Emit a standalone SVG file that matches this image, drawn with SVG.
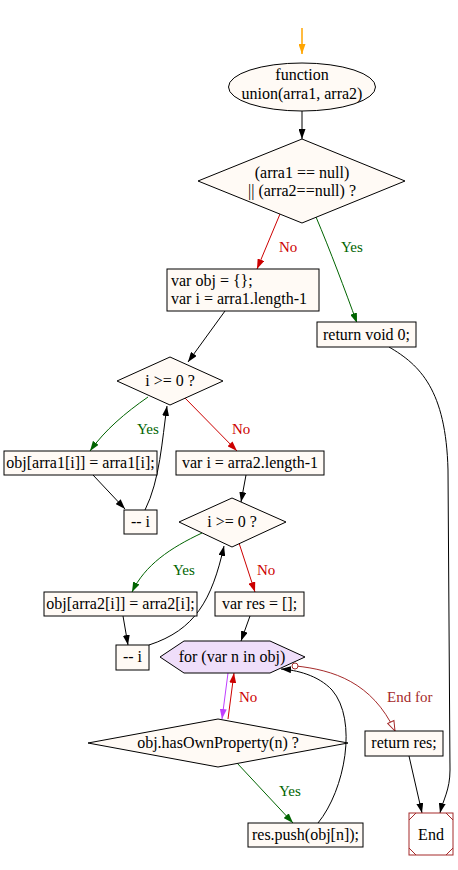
<svg xmlns="http://www.w3.org/2000/svg" width="458" height="870" viewBox="0 0 458 870">
<style>
.n{fill:#fffaf5;stroke:#000;stroke-width:1}
.t{font-family:"Liberation Serif","Times New Roman",serif;font-size:16px;fill:#000;text-anchor:middle}
.l{text-anchor:start}
.e{fill:none;stroke:#000;stroke-width:1}
.red{stroke:#cc0000}
.grn{stroke:#006400}
.lr{font-family:"Liberation Serif","Times New Roman",serif;font-size:15px;fill:#cc0000}
.lg{font-family:"Liberation Serif","Times New Roman",serif;font-size:15px;fill:#006400}
.lb{font-family:"Liberation Serif","Times New Roman",serif;font-size:15px;fill:#a52a2a}
</style>
<defs>
<marker id="ab" viewBox="0 0 10 7" refX="10" refY="3.5" markerWidth="10" markerHeight="7" orient="auto" markerUnits="userSpaceOnUse"><path d="M0,0L10,3.5L0,7z" fill="#000"/></marker>
<marker id="ar" viewBox="0 0 10 7" refX="10" refY="3.5" markerWidth="10" markerHeight="7" orient="auto" markerUnits="userSpaceOnUse"><path d="M0,0L10,3.5L0,7z" fill="#cc0000"/></marker>
<marker id="ag" viewBox="0 0 10 7" refX="10" refY="3.5" markerWidth="10" markerHeight="7" orient="auto" markerUnits="userSpaceOnUse"><path d="M0,0L10,3.5L0,7z" fill="#006400"/></marker>
<marker id="ao" viewBox="0 0 10 7" refX="10" refY="3.5" markerWidth="10" markerHeight="7" orient="auto" markerUnits="userSpaceOnUse"><path d="M0,0L10,3.5L0,7z" fill="#ffa500"/></marker>
<marker id="ap" viewBox="0 0 10 7" refX="10" refY="3.5" markerWidth="10" markerHeight="7" orient="auto" markerUnits="userSpaceOnUse"><path d="M0,0L10,3.5L0,7z" fill="#bf3eff"/></marker>
<marker id="aw" viewBox="-1 -1 12 9" refX="10" refY="3.5" markerWidth="12" markerHeight="9" orient="auto" markerUnits="userSpaceOnUse"><path d="M0,0L10,3.5L0,7z" fill="#fff" stroke="#a52a2a" stroke-width="1"/></marker>
<marker id="od" viewBox="-4 -4 8 8" refX="0" refY="0" markerWidth="8" markerHeight="8" orient="auto" markerUnits="userSpaceOnUse"><circle cx="0" cy="0" r="3" fill="#fff" stroke="#a52a2a" stroke-width="1"/></marker>
</defs>
<g id="edges">
<path class="e" d="M302,28L302,54" style="stroke:#ffa500;stroke-width:1.5" marker-end="url(#ao)"/>
<path class="e" d="M302,111L302,139" marker-end="url(#ab)"/>
<path class="e red" d="M280,214L257,269" marker-end="url(#ar)"/>
<text class="lr" x="279" y="252">No</text>
<path class="e grn" d="M316,217C330,250 345,290 357,323" marker-end="url(#ag)"/>
<text class="lg" x="341" y="252">Yes</text>
<path class="e" d="M389,347C420,365 446,390 448,470L450,770C450,790 443,800 440,813" marker-end="url(#ab)"/>
<path class="e" d="M225,311L188,362" marker-end="url(#ab)"/>
<path class="e grn" d="M148,397C125,413 105,430 90,451" marker-end="url(#ag)"/>
<text class="lg" x="137" y="434">Yes</text>
<path class="e red" d="M185,398L237,451" marker-end="url(#ar)"/>
<text class="lr" x="232" y="434">No</text>
<path class="e" d="M93,475L125,509" marker-end="url(#ab)"/>
<path class="e" d="M145,510C160,480 162,440 167,406" marker-end="url(#ab)"/>
<path class="e" d="M246,475L241,502" marker-end="url(#ab)"/>
<path class="e grn" d="M202,533C170,548 145,565 132,592" marker-end="url(#ag)"/>
<text class="lg" x="173" y="575">Yes</text>
<path class="e red" d="M239,543L255,592" marker-end="url(#ar)"/>
<text class="lr" x="257" y="575">No</text>
<path class="e" d="M123,616L128,645" marker-end="url(#ab)"/>
<path class="e" d="M149,645C195,630 212,600 224,546" marker-end="url(#ab)"/>
<path class="e" d="M250,616L241,641" marker-end="url(#ab)"/>
<path class="e" d="M228,673L222,719" style="stroke:#bf3eff" marker-end="url(#ap)"/>
<path class="e red" d="M228,719L234,673" marker-end="url(#ar)"/>
<text class="lr" x="239" y="702">No</text>
<path class="e grn" d="M237,763L293,823" marker-end="url(#ag)"/>
<text class="lg" x="279" y="796">Yes</text>
<path class="e" d="M318,823C345,790 358,720 332,690C318,675 296,670 281,669" marker-end="url(#ab)"/>
<path class="e" d="M296,666C333,670 372,682 395,731" style="stroke:#a52a2a" marker-end="url(#aw)"/>
<circle cx="295" cy="666" r="3" fill="#fff" stroke="#a52a2a"/>
<text class="lb" x="387" y="702">End for</text>
<path class="e" d="M409,756L422,813" marker-end="url(#ab)"/>
</g>
<g id="start"><ellipse class="n" cx="302" cy="87" rx="73.5" ry="24"/><text class="t" x="302" y="80">function</text><text class="t" x="302" y="99">union(arra1, arra2)</text></g>
<g id="cond1"><polygon class="n" points="302,139 405,181 302,223 198,181"/><text class="t" x="302" y="178">(arra1 == null)</text><text class="t" x="302" y="196">|| (arra2==null) ?</text></g>
<g id="init1"><rect class="n" x="167" y="269" width="152" height="42"/><text class="t l" x="171" y="286">var obj = {};</text><text class="t l" x="171" y="304">var i = arra1.length-1</text></g>
<g id="retvoid"><rect class="n" x="317" y="322" width="99" height="25"/><text class="t" x="366.5" y="340">return void 0;</text></g>
<g id="cond2"><polygon class="n" points="170,357 223,381 170,405 117,381"/><text class="t" x="170" y="386">i &gt;= 0 ?</text></g>
<g id="assign1"><rect class="n" x="4" y="451" width="153" height="24"/><text class="t" x="80.5" y="468">obj[arra1[i]] = arra1[i];</text></g>
<g id="init2"><rect class="n" x="176" y="451" width="148" height="24"/><text class="t" x="250" y="468">var i = arra2.length-1</text></g>
<g id="dec1"><rect class="n" x="124" y="510" width="33" height="24"/><text class="t" x="140.5" y="527">-- i</text></g>
<g id="cond3"><polygon class="n" points="232,498 286,522 232,547 179,522"/><text class="t" x="232" y="527">i &gt;= 0 ?</text></g>
<g id="assign2"><rect class="n" x="44" y="592" width="153" height="24"/><text class="t" x="120.5" y="609">obj[arra2[i]] = arra2[i];</text></g>
<g id="initres"><rect class="n" x="215" y="592" width="89" height="24"/><text class="t" x="259.5" y="609">var res = [];</text></g>
<g id="dec2"><rect class="n" x="116" y="645" width="33" height="25"/><text class="t" x="132.5" y="662">-- i</text></g>
<g id="forloop"><polygon points="160,657 184,641 270,641 305,657 270,673 184,673" fill="#efdefa" stroke="#000"/><text class="t" x="232" y="662">for (var n in obj)</text></g>
<g id="cond4"><polygon class="n" points="218,719 348,743 218,767 88,743"/><text class="t" x="218" y="748">obj.hasOwnProperty(n) ?</text></g>
<g id="push"><rect class="n" x="248" y="823" width="115" height="24"/><text class="t" x="305.5" y="840">res.push(obj[n]);</text></g>
<g id="retres"><rect class="n" x="365" y="731" width="78" height="25"/><text class="t" x="404" y="748">return res;</text></g>
<g id="end"><rect x="409" y="813" width="44" height="42" fill="#fff" stroke="#a52a2a"/><path d="M409,820L416,813M446,813L453,820M453,848L446,855M416,855L409,848" stroke="#a52a2a" fill="none"/><text class="t" x="431" y="840">End</text></g>
</svg>
